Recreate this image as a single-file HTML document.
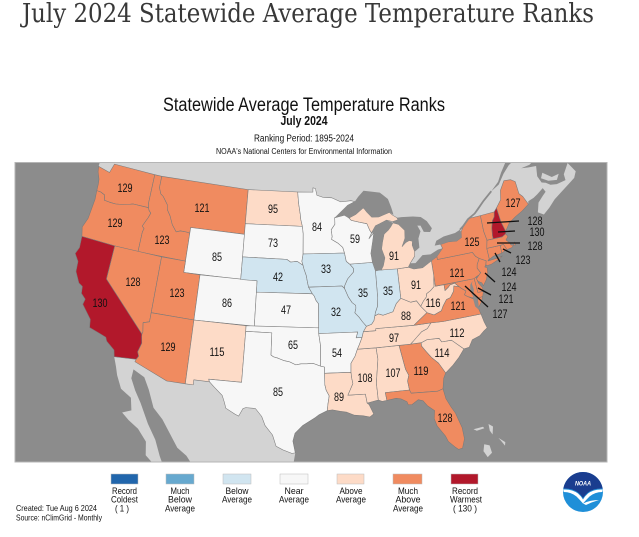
<!DOCTYPE html>
<html><head><meta charset="utf-8"><style>
html,body{margin:0;padding:0;background:#fff;width:639px;height:537px;overflow:hidden}
svg{display:block}
text{font-family:"Liberation Sans",Arial,sans-serif}
</style></head><body>
<svg id="root" width="639" height="537" viewBox="0 0 639 537">
<rect width="639" height="537" fill="#fff"/>
<text x="22" y="22" style="font-family:'DejaVu Serif','Liberation Serif',serif" font-size="26" fill="#383838" textLength="572" lengthAdjust="spacingAndGlyphs">July 2024 Statewide Average Temperature Ranks</text>
<g text-anchor="middle" fill="#111">
<text x="304" y="111" font-size="19" textLength="282" lengthAdjust="spacingAndGlyphs">Statewide Average Temperature Ranks</text>
<text x="304" y="125" font-size="13" font-weight="bold" textLength="47" lengthAdjust="spacingAndGlyphs">July 2024</text>
<text x="304" y="141.5" font-size="10" textLength="100" lengthAdjust="spacingAndGlyphs">Ranking Period: 1895-2024</text>
<text x="304" y="154" font-size="8" textLength="176" lengthAdjust="spacingAndGlyphs">NOAA's National Centers for Environmental Information</text>
</g>
<defs><clipPath id="mc"><rect x="15" y="162.5" width="592" height="299.5"/></clipPath></defs>
<g clip-path="url(#mc)">
<rect x="15" y="162.5" width="592" height="299.5" fill="#8c8c8c"/>
<g id="geo"></g>
</g>
<rect x="15" y="162.5" width="592" height="299.5" fill="none" stroke="#b5b5b5" stroke-width="1"/>
<g id="labels" text-anchor="middle" font-size="11.5" fill="#111">
<text x="125" y="192" textLength="15" lengthAdjust="spacingAndGlyphs">129</text>
<text x="115" y="227" textLength="15" lengthAdjust="spacingAndGlyphs">129</text>
<text x="162" y="244" textLength="15" lengthAdjust="spacingAndGlyphs">123</text>
<text x="202" y="212" textLength="15" lengthAdjust="spacingAndGlyphs">121</text>
<text x="217" y="261" textLength="10" lengthAdjust="spacingAndGlyphs">85</text>
<text x="133" y="286" textLength="15" lengthAdjust="spacingAndGlyphs">128</text>
<text x="177" y="297" textLength="15" lengthAdjust="spacingAndGlyphs">123</text>
<text x="227" y="307" textLength="10" lengthAdjust="spacingAndGlyphs">86</text>
<text x="100" y="307" textLength="15" lengthAdjust="spacingAndGlyphs">130</text>
<text x="168" y="351" textLength="15" lengthAdjust="spacingAndGlyphs">129</text>
<text x="217" y="356" textLength="15" lengthAdjust="spacingAndGlyphs">115</text>
<text x="273" y="213" textLength="10" lengthAdjust="spacingAndGlyphs">95</text>
<text x="273" y="247" textLength="10" lengthAdjust="spacingAndGlyphs">73</text>
<text x="278" y="281" textLength="10" lengthAdjust="spacingAndGlyphs">42</text>
<text x="286" y="314" textLength="10" lengthAdjust="spacingAndGlyphs">47</text>
<text x="293" y="349" textLength="10" lengthAdjust="spacingAndGlyphs">65</text>
<text x="278" y="396" textLength="10" lengthAdjust="spacingAndGlyphs">85</text>
<text x="317" y="231" textLength="10" lengthAdjust="spacingAndGlyphs">84</text>
<text x="355" y="243" textLength="10" lengthAdjust="spacingAndGlyphs">59</text>
<text x="394" y="260" textLength="10" lengthAdjust="spacingAndGlyphs">91</text>
<text x="326" y="273" textLength="10" lengthAdjust="spacingAndGlyphs">33</text>
<text x="363" y="297" textLength="10" lengthAdjust="spacingAndGlyphs">35</text>
<text x="388" y="295" textLength="10" lengthAdjust="spacingAndGlyphs">35</text>
<text x="336" y="316" textLength="10" lengthAdjust="spacingAndGlyphs">32</text>
<text x="337" y="357" textLength="10" lengthAdjust="spacingAndGlyphs">54</text>
<text x="339" y="401" textLength="10" lengthAdjust="spacingAndGlyphs">89</text>
<text x="365" y="382" textLength="15" lengthAdjust="spacingAndGlyphs">108</text>
<text x="393" y="377" textLength="15" lengthAdjust="spacingAndGlyphs">107</text>
<text x="421" y="375" textLength="15" lengthAdjust="spacingAndGlyphs">119</text>
<text x="445" y="422" textLength="15" lengthAdjust="spacingAndGlyphs">128</text>
<text x="442" y="357" textLength="15" lengthAdjust="spacingAndGlyphs">114</text>
<text x="457" y="337" textLength="15" lengthAdjust="spacingAndGlyphs">112</text>
<text x="394" y="342" textLength="10" lengthAdjust="spacingAndGlyphs">97</text>
<text x="406" y="320" textLength="10" lengthAdjust="spacingAndGlyphs">88</text>
<text x="433" y="307" textLength="15" lengthAdjust="spacingAndGlyphs">116</text>
<text x="458" y="310" textLength="15" lengthAdjust="spacingAndGlyphs">121</text>
<text x="416" y="289" textLength="10" lengthAdjust="spacingAndGlyphs">91</text>
<text x="457" y="277" textLength="15" lengthAdjust="spacingAndGlyphs">121</text>
<text x="472" y="246" textLength="15" lengthAdjust="spacingAndGlyphs">125</text>
<text x="513" y="207" textLength="15" lengthAdjust="spacingAndGlyphs">127</text>
<text x="535" y="225" textLength="15" lengthAdjust="spacingAndGlyphs">128</text>
<text x="537" y="236" textLength="15" lengthAdjust="spacingAndGlyphs">130</text>
<text x="535" y="250" textLength="15" lengthAdjust="spacingAndGlyphs">128</text>
<text x="523" y="264" textLength="15" lengthAdjust="spacingAndGlyphs">123</text>
<text x="509" y="276" textLength="15" lengthAdjust="spacingAndGlyphs">124</text>
<text x="509" y="291" textLength="15" lengthAdjust="spacingAndGlyphs">124</text>
<text x="506" y="303" textLength="15" lengthAdjust="spacingAndGlyphs">121</text>
<text x="500" y="318" textLength="15" lengthAdjust="spacingAndGlyphs">127</text>
</g>
<g stroke="#111" stroke-width="1.3">
<line x1="487" y1="223" x2="519" y2="221"/>
<line x1="498" y1="232" x2="515" y2="231"/>
<line x1="497" y1="243" x2="520" y2="243"/>
<line x1="503" y1="249" x2="511" y2="253"/>
<line x1="495" y1="253" x2="500" y2="262"/>
<line x1="485" y1="273" x2="495" y2="282"/>
<line x1="478" y1="288" x2="491" y2="295"/>
<line x1="465" y1="286" x2="488" y2="307"/>
</g>
<g stroke="#bbb" stroke-width="0.5">
<rect x="111" y="474" width="27" height="10" fill="#2166ac"/>
<rect x="166" y="474" width="28" height="10" fill="#67a9cf"/>
<rect x="223" y="474" width="28" height="10" fill="#d1e5f0"/>
<rect x="280" y="474" width="28" height="10" fill="#f7f7f7"/>
<rect x="337" y="474" width="27" height="10" fill="#fddbc7"/>
<rect x="393" y="474" width="29" height="10" fill="#f08b60"/>
<rect x="451" y="474" width="27" height="10" fill="#b2182b"/>
</g>
<g text-anchor="middle" font-size="9.5" fill="#111">
<text x="124.5" y="494" textLength="25" lengthAdjust="spacingAndGlyphs">Record</text>
<text x="124.5" y="502.7" textLength="27" lengthAdjust="spacingAndGlyphs">Coldest</text>
<text x="122" y="511.4" textLength="14" lengthAdjust="spacingAndGlyphs">( 1 )</text>
<text x="180" y="494" textLength="19" lengthAdjust="spacingAndGlyphs">Much</text>
<text x="180" y="502.7" textLength="24" lengthAdjust="spacingAndGlyphs">Below</text>
<text x="180" y="511.4" textLength="30" lengthAdjust="spacingAndGlyphs">Average</text>
<text x="237" y="494" textLength="23" lengthAdjust="spacingAndGlyphs">Below</text>
<text x="237" y="502.7" textLength="30" lengthAdjust="spacingAndGlyphs">Average</text>
<text x="294" y="494" textLength="19" lengthAdjust="spacingAndGlyphs">Near</text>
<text x="294" y="502.7" textLength="30" lengthAdjust="spacingAndGlyphs">Average</text>
<text x="351" y="494" textLength="23" lengthAdjust="spacingAndGlyphs">Above</text>
<text x="351" y="502.7" textLength="30" lengthAdjust="spacingAndGlyphs">Average</text>
<text x="408" y="494" textLength="20" lengthAdjust="spacingAndGlyphs">Much</text>
<text x="408" y="502.7" textLength="25" lengthAdjust="spacingAndGlyphs">Above</text>
<text x="408" y="511.4" textLength="30" lengthAdjust="spacingAndGlyphs">Average</text>
<text x="465" y="494" textLength="26" lengthAdjust="spacingAndGlyphs">Record</text>
<text x="466" y="502.7" textLength="32" lengthAdjust="spacingAndGlyphs">Warmest</text>
<text x="465" y="511.4" textLength="24" lengthAdjust="spacingAndGlyphs">( 130 )</text>
</g>
<g font-size="8.5" fill="#111">
<text x="16" y="511" textLength="81" lengthAdjust="spacingAndGlyphs">Created: Tue Aug  6 2024</text>
<text x="16" y="520.5" textLength="86" lengthAdjust="spacingAndGlyphs">Source: nClimGrid - Monthly</text>
</g>
<circle cx="583" cy="492" r="20" fill="#1f8fd8"/>
<path d="M563.3,488.5 A20,20 0 0 1 602.7,488.5 Q594,488 588,492.5 Q585,495 583,498 Q581,495 578,492.5 Q572,488 563.3,488.5 Z" fill="#1a3d8f"/>
<path d="M563.4,489.5 Q572,489 578,493.5 Q581,496 583,499.5 Q585,496 588,493.5 Q594,489 602.6,489.5 L602.3,492 Q595,492 589.5,496.5 Q586,500 583,503.5 Q580,500 576.5,496.5 Q571,492 563.7,492 Z" fill="#fff"/>
<path d="M583,503.5 Q590,500 599,500 Q592,502 586,505 Z" fill="#fff"/>
<text x="583" y="485.5" text-anchor="middle" font-size="6.5" font-weight="bold" font-style="italic" fill="#fff" textLength="16" lengthAdjust="spacingAndGlyphs">NOAA</text>
</svg>
<script>
(function(){
var D=Math.PI/180,s1=Math.sin(29.5*D),s2=Math.sin(45.5*D),n=(s1+s2)/2,C=Math.cos(29.5*D)*Math.cos(29.5*D)+2*n*s1;
function P(lo,la){var r=Math.sqrt(C-2*n*Math.sin(la*D))/n,t=n*(lo+96)*D;return [306.7+628*r*Math.sin(t),-520.3+646.5*r*Math.cos(t)];}
function pth(a,close){var s='';for(var i=0;i<a.length;i+=2){var q=P(a[i],a[i+1]);s+=(i?'L':'M')+q[0].toFixed(1)+','+q[1].toFixed(1);}return s+(close===false?'':'Z');}
var g=document.getElementById('geo'),NS=g.namespaceURI;
function add(a,fill,stroke,sw){var e=document.createElementNS(NS,'path');e.setAttribute('d',pth(a,fill!=='none'));e.setAttribute('fill',fill);if(stroke){e.setAttribute('stroke',stroke);e.setAttribute('stroke-width',sw||'0.5');e.setAttribute('stroke-linejoin','round');}g.appendChild(e);}
var LAND='#d3d3d3',SEA='#8c8c8c',MA='#f08b60',RW='#b2182b',AB='#fddbc7',NR='#f7f7f7',BL='#d1e5f0',BD='#7a7a7a';
add([-124.75,48.45,-124.75,60,-57,60,-56,52,-59.0,47.6,-60.4,47.05,-59.8,46.1,-60.3,45.6,-61.2,45.3,-62.5,44.85,-63.6,44.45,-64.6,43.9,-65.5,43.5,-66.15,43.85,-65.7,44.65,-64.9,45.1,-64.4,45.35,-64.6,45.75,-65.5,45.4,-66.1,45.2,-66.9,45.05,-67.0,44.8,-68.0,44.4,-69.0,44.1,-70.0,43.7,-70.7,43.1,-71.3,42.5,-72.5,41.6,-74.5,40.9,-77.0,39.6,-90.0,38.0,-110.0,40.0,-123.0,46.5,-124.0,47.5],LAND);
add([-71.2,46.85,-70.0,47.5,-69.3,48.2,-68.3,49.0,-67.0,49.4,-66.0,50.2,-63.0,50.3,-60.0,50.3,-57.0,51.5,-55.0,50.0,-56.0,48.0,-59.2,47.6,-60.4,47.05,-61.4,46.25,-61.45,45.7,-62.7,45.65,-63.5,45.8,-64.0,46.1,-64.5,46.25,-64.8,46.9,-64.5,47.8,-65.5,47.9,-66.5,48.05,-65.3,48.1,-64.3,48.45,-64.2,48.9,-65.5,49.25,-66.5,49.15,-68.0,48.65,-69.0,48.05,-70.0,47.25],SEA);
add([-64.4,46.62,-64.0,47.05,-63.0,46.4,-62.0,46.45,-62.5,46.0,-63.6,46.2],LAND);
add([-117.12,32.53,-114.72,32.72,-114.81,32.49,-111.07,31.33,-108.2,31.33,-108.2,31.78,-106.5,31.78,-106.0,31.4,-105.0,30.7,-104.7,30.1,-104.5,29.6,-103.5,29.15,-103.1,29.0,-102.7,29.7,-102.4,29.8,-101.4,29.77,-100.7,29.1,-100.3,28.3,-99.5,27.5,-99.1,26.5,-98.4,26.2,-97.5,25.9,-97.15,25.95,-97.4,24.5,-97.7,22.0,-105.5,20.0,-106.4,23.2,-108.0,25.0,-109.0,25.6,-110.9,27.9,-112.0,28.8,-112.8,30.3,-113.5,31.3,-114.8,31.8,-114.85,31.0,-114.2,30.0,-113.4,29.0,-112.3,27.3,-111.3,26.0,-110.6,24.6,-110.3,24.1,-109.4,23.2,-109.9,22.9,-112.0,24.5,-112.2,25.7,-113.2,26.7,-114.3,27.3,-115.1,27.85,-114.2,28.2,-114.5,29.3,-115.7,29.9,-116.4,31.0,-116.7,31.7],LAND);
add([-79.0,26.7,-78.0,26.75,-77.9,26.6,-78.7,26.5],LAND);
add([-77.4,26.9,-77.0,26.6,-77.2,25.9,-77.4,26.3],LAND);
add([-78.2,25.2,-77.7,25.0,-77.6,24.3,-78.1,24.0,-78.4,24.6],LAND);
add([-76.7,25.5,-76.1,25.0,-76.2,24.7,-76.5,25.2],LAND);
var S=[
[MA,[-124.73,48.38,-123.1,48.15,-122.75,49.0,-117.03,49.0,-117.04,46.42,-116.92,46.0,-118.98,46.0,-119.3,45.93,-120.5,45.7,-121.2,45.6,-122.0,45.6,-122.76,45.65,-122.9,46.1,-123.5,46.25,-124.05,46.27,-124.1,46.9,-124.2,47.3,-124.6,47.9]],
[MA,[-124.05,46.27,-123.5,46.25,-122.9,46.1,-122.76,45.65,-122.0,45.6,-121.2,45.6,-120.5,45.7,-119.3,45.93,-118.98,46.0,-116.92,46.0,-116.78,45.8,-116.47,45.57,-116.7,45.1,-116.9,44.8,-117.2,44.3,-116.9,44.1,-117.03,43.8,-117.03,42.0,-120.0,42.0,-124.21,42.0,-124.5,42.8,-124.1,43.7,-123.95,45.5]],
[MA,[-117.03,49.0,-116.05,49.0,-116.05,47.98,-115.7,47.45,-115.3,47.26,-114.58,46.63,-114.45,46.2,-113.94,45.69,-113.45,44.97,-112.8,44.4,-112.3,44.56,-111.5,44.55,-111.05,44.5,-111.05,42.0,-117.03,42.0,-117.03,43.8,-116.9,44.1,-117.2,44.3,-116.9,44.8,-116.7,45.1,-116.47,45.57,-116.78,45.8,-116.92,46.0,-117.04,46.42]],
[MA,[-116.05,49.0,-104.05,49.0,-104.05,45.0,-111.05,45.0,-111.05,44.5,-111.5,44.55,-112.3,44.56,-112.8,44.4,-113.45,44.97,-113.94,45.69,-114.45,46.2,-114.58,46.63,-115.3,47.26,-115.7,47.45,-116.05,47.98]],
[NR,[-111.05,45.0,-104.05,45.0,-104.05,41.0,-111.05,41.0]],
[MA,[-120.0,42.0,-114.05,42.0,-114.05,36.19,-114.74,36.0,-114.57,35.2,-114.63,35.0,-120.0,39.0]],
[RW,[-124.21,42.0,-120.0,42.0,-120.0,39.0,-114.63,35.0,-114.6,34.8,-114.45,34.2,-114.72,33.4,-114.52,33.03,-114.72,32.72,-117.12,32.53,-117.3,33.1,-118.3,33.7,-118.5,34.03,-119.2,34.2,-120.5,34.5,-120.65,35.2,-121.9,36.3,-121.8,36.8,-122.4,37.2,-122.5,37.8,-123.0,38.0,-123.7,38.9,-123.8,39.8,-124.4,40.4,-124.1,41.0]],
[MA,[-114.05,42.0,-111.05,42.0,-111.05,41.0,-109.05,41.0,-109.05,37.0,-114.05,37.0]],
[MA,[-114.05,37.0,-109.05,37.0,-109.05,31.33,-111.07,31.33,-114.81,32.49,-114.72,32.72,-114.52,33.03,-114.72,33.4,-114.45,34.2,-114.6,34.8,-114.63,35.0,-114.57,35.2,-114.74,36.0,-114.05,36.19]],
[NR,[-109.05,41.0,-102.05,41.0,-102.05,37.0,-109.05,37.0]],
[AB,[-109.05,37.0,-103.0,37.0,-103.0,36.5,-103.04,32.0,-106.62,32.0,-106.5,31.78,-108.2,31.78,-108.2,31.33,-109.05,31.33]],
[AB,[-104.05,49.0,-97.23,49.0,-97.1,48.0,-96.85,47.0,-96.8,46.6,-96.56,45.94,-104.05,45.94]],
[NR,[-104.05,45.94,-96.56,45.94,-96.45,45.3,-96.45,43.5,-96.6,42.85,-96.45,42.49,-97.2,42.85,-98.0,42.77,-98.5,43.0,-104.05,43.0]],
[BL,[-104.05,43.0,-98.5,43.0,-98.0,42.77,-97.2,42.85,-96.45,42.49,-96.35,42.2,-96.05,41.6,-95.9,41.0,-95.77,40.58,-95.31,40.0,-102.05,40.0,-102.05,41.0,-104.05,41.0]],
[NR,[-102.05,40.0,-95.31,40.0,-95.1,39.8,-94.88,39.4,-94.6,39.12,-94.62,37.0,-102.05,37.0]],
[NR,[-103.0,37.0,-94.62,37.0,-94.62,36.5,-94.43,35.4,-94.48,33.64,-95.3,33.88,-96.0,33.85,-96.6,33.85,-97.2,33.75,-97.9,34.0,-98.5,34.1,-99.2,34.3,-99.7,34.4,-100.0,34.56,-100.0,36.5,-103.0,36.5]],
[NR,[-103.0,36.5,-100.0,36.5,-100.0,34.56,-99.7,34.4,-99.2,34.3,-98.5,34.1,-97.9,34.0,-97.2,33.75,-96.6,33.85,-96.0,33.85,-95.3,33.88,-94.48,33.64,-94.04,33.55,-94.04,32.0,-93.9,31.5,-93.6,31.0,-93.75,30.3,-93.84,29.7,-94.7,29.35,-95.1,29.1,-96.4,28.4,-97.2,27.7,-97.4,27.0,-97.15,25.95,-97.5,25.9,-98.4,26.2,-99.1,26.5,-99.5,27.5,-100.3,28.3,-100.7,29.1,-101.4,29.77,-102.4,29.8,-102.7,29.7,-103.1,29.0,-103.5,29.15,-104.5,29.6,-104.7,30.1,-105.0,30.7,-106.0,31.4,-106.5,31.78,-106.62,32.0,-103.04,32.0]],
[NR,[-97.23,49.0,-95.15,49.0,-95.15,49.38,-94.8,49.32,-94.6,48.72,-93.8,48.52,-92.6,48.45,-91.4,48.05,-90.0,48.1,-89.49,48.0,-90.5,47.7,-92.1,46.75,-92.29,46.66,-92.29,46.08,-92.8,45.6,-92.7,45.0,-92.8,44.75,-92.0,44.4,-91.4,44.0,-91.22,43.5,-96.45,43.5,-96.45,45.3,-96.56,45.94,-96.8,46.6,-96.85,47.0,-97.1,48.0]],
[BL,[-96.45,43.5,-91.22,43.5,-91.05,42.75,-90.64,42.5,-90.2,42.1,-90.2,41.8,-91.0,41.2,-91.4,40.6,-91.42,40.38,-91.73,40.61,-95.77,40.58,-95.9,41.0,-96.05,41.6,-96.35,42.2,-96.45,42.49,-96.6,42.85]],
[BL,[-95.77,40.58,-91.73,40.61,-91.42,40.38,-91.0,39.6,-90.6,39.1,-90.2,38.85,-90.2,38.6,-90.35,38.2,-89.9,37.8,-89.5,37.35,-89.1,36.95,-89.5,36.5,-89.7,36.0,-90.37,36.0,-90.15,36.5,-94.62,36.5,-94.62,37.0,-94.6,39.12,-94.88,39.4,-95.1,39.8,-95.31,40.0]],
[NR,[-94.62,36.5,-90.15,36.5,-90.37,36.0,-89.7,36.0,-90.05,35.4,-90.3,35.0,-90.6,34.4,-91.1,33.8,-91.15,33.0,-94.04,33.0,-94.04,33.55,-94.48,33.64,-94.43,35.4]],
[AB,[-94.04,33.0,-91.15,33.0,-91.1,32.5,-91.0,32.0,-91.6,31.0,-89.73,31.0,-89.6,30.2,-89.4,30.05,-89.0,29.2,-89.4,28.95,-90.1,29.1,-91.0,29.2,-91.8,29.5,-92.5,29.6,-93.3,29.75,-93.84,29.7,-93.75,30.3,-93.6,31.0,-93.9,31.5,-94.04,32.0]],
[AB,[-91.15,33.0,-91.1,33.8,-90.6,34.4,-90.3,35.0,-88.2,35.0,-88.1,34.0,-88.47,31.9,-88.4,30.4,-89.6,30.2,-89.73,31.0,-91.6,31.0,-91.0,32.0,-91.1,32.5]],
[AB,[-88.2,35.0,-85.6,35.0,-85.18,32.87,-84.9,32.3,-85.1,31.8,-85.0,31.0,-87.6,31.0,-87.5,30.3,-88.0,30.25,-88.4,30.4,-88.47,31.9,-88.1,34.0]],
[MA,[-85.6,35.0,-83.1,35.0,-83.1,34.7,-82.7,34.2,-82.2,33.6,-81.5,33.0,-80.9,32.05,-81.2,31.6,-81.45,30.7,-82.04,30.56,-82.2,30.57,-84.86,30.7,-85.0,31.0,-85.1,31.8,-84.9,32.3,-85.18,32.87]],
[MA,[-87.6,31.0,-85.0,31.0,-84.86,30.7,-82.2,30.57,-82.04,30.56,-81.45,30.7,-81.3,29.8,-80.9,29.0,-80.55,28.4,-80.1,27.0,-80.05,26.0,-80.4,25.2,-80.8,25.15,-81.1,25.4,-81.7,26.0,-81.9,26.5,-82.6,27.5,-82.8,28.2,-82.65,28.9,-83.3,29.4,-83.7,29.9,-84.2,30.05,-84.9,29.7,-85.3,29.7,-85.4,30.0,-86.0,30.3,-86.5,30.4,-87.5,30.3]],
[AB,[-83.1,35.0,-82.4,35.2,-81.04,35.15,-80.8,34.8,-79.7,34.8,-78.5,33.85,-79.2,33.2,-80.0,32.6,-80.9,32.05,-81.5,33.0,-82.2,33.6,-82.7,34.2,-83.1,34.7]],
[AB,[-84.32,35.0,-83.1,35.0,-82.4,35.2,-81.04,35.15,-80.8,34.8,-79.7,34.8,-78.5,33.85,-77.9,33.9,-77.4,34.5,-76.5,34.7,-76.0,35.0,-75.5,35.25,-75.7,35.8,-75.87,36.55,-80.3,36.55,-81.7,36.6,-82.2,36.15,-82.9,35.95,-83.5,35.55,-84.0,35.2]],
[AB,[-90.3,35.0,-88.2,35.0,-84.32,35.0,-84.0,35.2,-83.5,35.55,-82.9,35.95,-82.2,36.15,-81.7,36.6,-83.67,36.6,-88.07,36.68,-88.07,36.5,-89.5,36.5,-89.7,36.0,-90.05,35.4]],
[AB,[-89.5,36.5,-88.07,36.5,-88.07,36.68,-83.67,36.6,-81.97,37.54,-82.6,38.17,-83.0,38.7,-83.7,38.65,-84.8,39.1,-85.4,38.7,-85.9,38.0,-86.5,37.9,-87.1,37.8,-87.6,37.95,-88.05,37.8,-88.2,37.4,-88.5,37.1,-89.1,36.95]],
[MA,[-83.67,36.6,-81.7,36.6,-80.3,36.55,-75.87,36.55,-76.0,37.0,-76.3,37.5,-76.2,37.9,-77.0,38.3,-77.3,38.5,-77.05,38.8,-77.5,39.1,-77.75,39.3,-78.35,39.45,-78.5,39.0,-79.0,38.5,-79.5,38.4,-80.0,37.9,-80.3,37.5,-81.2,37.25,-81.97,37.54]],
[MA,[-75.25,38.03,-75.9,37.95,-76.0,37.15,-75.6,37.5]],
[AB,[-82.6,38.17,-81.97,37.54,-81.2,37.25,-80.3,37.5,-80.0,37.9,-79.5,38.4,-79.0,38.5,-78.5,39.0,-78.35,39.45,-77.75,39.3,-78.2,39.68,-78.8,39.6,-79.0,39.45,-79.48,39.2,-79.48,39.72,-80.52,39.72,-80.52,40.64,-80.6,40.3,-80.7,39.7,-81.2,39.4,-81.7,39.2,-81.8,38.9,-82.2,38.6]],
[MA,[-79.48,39.72,-75.79,39.72,-75.7,38.46,-75.05,38.45,-75.25,38.03,-75.9,37.95,-76.3,38.05,-77.0,38.3,-77.3,38.5,-77.05,38.8,-77.5,39.1,-77.75,39.3,-78.2,39.68,-78.8,39.6,-79.0,39.45,-79.48,39.2]],
[MA,[-75.79,39.72,-75.55,39.82,-75.5,39.6,-75.4,39.25,-75.05,38.8,-75.05,38.45,-75.7,38.46]],
[MA,[-74.7,41.35,-73.92,41.0,-74.05,40.7,-74.25,40.5,-74.0,40.4,-74.05,40.0,-74.4,39.4,-74.9,38.93,-75.0,39.2,-75.4,39.4,-75.55,39.65,-75.13,39.95,-74.9,40.1,-75.2,40.55,-75.1,40.85]],
[MA,[-80.52,41.98,-79.76,42.27,-79.76,42.0,-75.35,42.0,-75.07,41.6,-74.7,41.35,-75.1,40.85,-75.2,40.55,-74.9,40.1,-75.13,39.95,-75.55,39.82,-75.79,39.72,-80.52,39.72]],
[MA,[-79.76,42.0,-79.76,42.27,-78.9,42.9,-79.05,43.25,-78.0,43.35,-77.0,43.27,-76.3,43.5,-76.2,44.0,-75.8,44.4,-75.0,44.95,-74.7,45.0,-73.35,45.0,-73.4,43.6,-73.25,42.75,-73.5,42.05,-73.5,41.1,-73.7,40.95,-72.5,41.0,-71.86,41.07,-72.4,40.85,-73.4,40.6,-74.0,40.57,-74.05,40.7,-73.92,41.0,-74.7,41.35,-75.07,41.6,-75.35,42.0]],
[MA,[-73.5,42.05,-71.8,42.02,-71.85,41.32,-72.9,41.25,-73.7,40.98,-73.5,41.1]],
[MA,[-71.8,42.02,-71.38,42.02,-71.12,41.5,-71.4,41.45,-71.85,41.32]],
[MA,[-73.5,42.05,-73.25,42.75,-72.46,42.73,-71.3,42.7,-70.8,42.87,-70.6,42.6,-70.95,42.35,-70.6,42.0,-70.5,41.78,-69.95,41.68,-70.0,42.0,-70.1,41.8,-70.5,41.55,-71.12,41.5,-71.38,42.02,-71.8,42.02]],
[MA,[-73.35,45.0,-71.5,45.01,-71.65,44.6,-72.0,44.3,-72.3,43.7,-72.45,43.0,-72.46,42.73,-73.25,42.75,-73.4,43.6]],
[RW,[-71.5,45.01,-71.08,45.3,-70.98,44.0,-70.7,43.1,-70.8,42.87,-71.3,42.7,-72.46,42.73,-72.45,43.0,-72.3,43.7,-72.0,44.3,-71.65,44.6]],
[MA,[-71.08,45.3,-70.3,45.9,-70.0,46.7,-69.2,47.45,-68.3,47.35,-67.8,47.07,-67.78,45.95,-67.4,45.6,-67.0,44.8,-68.0,44.4,-69.0,44.1,-70.0,43.7,-70.7,43.1,-70.98,44.0]],
[AB,[-84.82,41.7,-83.45,41.73,-82.8,41.5,-81.7,41.5,-80.52,41.98,-80.52,40.64,-80.6,40.3,-80.7,39.7,-81.2,39.4,-81.7,39.2,-81.8,38.9,-82.2,38.6,-82.6,38.17,-83.0,38.7,-83.7,38.65,-84.8,39.1]],
[BL,[-87.52,41.76,-86.8,41.76,-84.82,41.76,-84.8,39.1,-85.4,38.7,-85.9,38.0,-86.5,37.9,-87.1,37.8,-87.6,37.95,-88.05,37.8,-87.95,38.1,-87.65,38.6,-87.53,39.35]],
[BL,[-90.64,42.5,-87.8,42.5,-87.52,41.76,-87.53,39.35,-87.65,38.6,-87.95,38.1,-88.05,37.8,-88.2,37.4,-88.5,37.1,-89.1,36.95,-89.5,37.35,-89.9,37.8,-90.35,38.2,-90.2,38.6,-90.2,38.85,-90.6,39.1,-91.0,39.6,-91.42,40.38,-91.4,40.6,-91.0,41.2,-90.2,41.8,-90.2,42.1]],
[NR,[-92.29,46.66,-92.0,46.7,-91.0,46.85,-90.4,46.57,-90.1,46.35,-89.1,46.15,-88.1,45.95,-87.8,45.35,-87.6,45.1,-88.0,44.6,-87.3,45.1,-87.5,44.5,-87.7,43.9,-87.9,43.3,-87.8,42.5,-90.64,42.5,-91.05,42.75,-91.22,43.5,-91.4,44.0,-92.0,44.4,-92.8,44.75,-92.7,45.0,-92.8,45.6,-92.29,46.08]],
[AB,[-86.8,41.76,-84.82,41.7,-83.45,41.73,-83.1,42.1,-82.5,42.6,-82.4,43.0,-82.6,43.6,-82.5,43.95,-82.9,44.05,-83.4,43.9,-83.9,43.6,-83.4,44.3,-83.3,45.0,-84.0,45.6,-84.7,45.78,-85.0,45.5,-85.4,45.2,-86.0,44.9,-86.3,44.2,-86.5,43.6,-86.2,42.8,-86.5,42.1]],
[AB,[-90.4,46.57,-89.5,46.85,-88.4,47.4,-88.0,47.0,-87.4,46.5,-86.5,46.45,-85.0,46.75,-84.6,46.45,-84.1,46.2,-84.0,46.0,-84.7,45.9,-85.5,46.1,-86.4,45.85,-87.0,45.7,-87.6,45.1,-87.8,45.35,-88.1,45.95,-89.1,46.15,-90.1,46.35]]
];
for(var i=0;i<S.length;i++)add(S[i][1],S[i][0],BD,'0.55');
add([-76.05,39.55,-76.4,39.25,-76.55,38.7,-76.35,38.25,-76.4,37.9,-76.35,37.3,-76.0,36.95,-75.95,37.2,-75.95,37.6,-75.85,37.95,-76.25,38.35,-76.1,38.8,-76.2,39.3],SEA);
add([-92.1,46.72,-90.5,47.7,-89.49,48.0,-89.0,48.4,-88.2,48.9,-87.0,48.75,-86.0,48.6,-85.0,47.95,-84.7,47.2,-84.5,46.5,-85.0,46.75,-86.5,46.45,-87.4,46.5,-88.0,47.0,-88.4,47.4,-89.5,46.85,-90.4,46.57,-91.0,46.85,-92.0,46.7],SEA);
add([-87.8,42.5,-87.52,41.7,-86.8,41.76,-86.5,42.1,-86.2,42.8,-86.5,43.6,-86.3,44.2,-86.0,44.9,-85.4,45.2,-85.0,45.5,-84.7,45.8,-85.5,46.1,-86.4,45.85,-87.0,45.7,-87.6,45.1,-87.3,45.1,-87.5,44.5,-87.7,43.9,-87.9,43.3],SEA);
add([-84.7,45.8,-84.0,45.6,-83.3,45.0,-83.4,44.3,-83.9,43.6,-83.4,43.9,-82.9,44.05,-82.5,43.95,-82.6,43.6,-82.4,43.0,-81.75,43.3,-81.7,44.1,-81.3,44.7,-81.6,45.25,-81.2,45.2,-80.9,44.6,-80.1,44.5,-79.8,44.8,-80.3,45.5,-81.0,45.95,-82.0,46.1,-83.5,46.2,-84.1,46.2,-84.0,46.0,-84.7,45.9],SEA);
add([-83.45,41.73,-82.8,41.5,-81.7,41.5,-80.52,41.98,-79.76,42.27,-78.9,42.9,-79.5,42.85,-80.5,42.55,-81.5,42.6,-82.5,42.0,-83.1,42.05],SEA);
add([-79.05,43.25,-79.8,43.25,-79.5,43.65,-78.5,43.9,-77.0,44.0,-76.3,44.2,-76.2,44.0,-76.3,43.5,-77.0,43.27,-78.0,43.35],SEA);
add([-76.3,44.2,-75.8,44.45,-75.0,44.95,-74.0,45.3,-73.5,45.6,-72.5,46.2,-71.2,46.85],'none',SEA,'1.8');
})();
</script>
</body></html>
